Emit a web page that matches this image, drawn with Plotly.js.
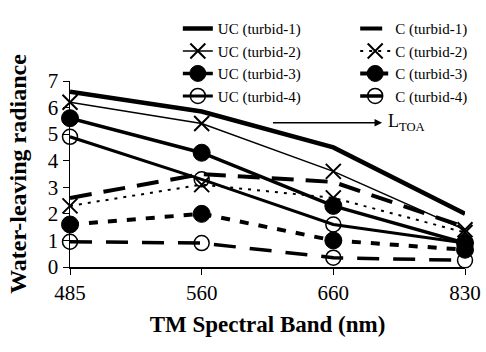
<!DOCTYPE html>
<html><head><meta charset="utf-8">
<script src="https://cdn.plot.ly/plotly-3.0.1.min.js"></script>
<style>body{margin:0;background:#fff}#c{width:486px;height:352px}</style>
</head><body><div id="c"></div>
<script>
const bands = ["485", "560", "660", "830"];
const ucTurbid1 = [6.6, 5.85, 4.5, 2.0];
const ucTurbid2 = [6.2, 5.4, 3.6, 1.4];
const ucTurbid3 = [5.6, 4.3, 2.3, 0.9];
const ucTurbid4 = [4.9, 3.3, 1.6, 0.9];
const cTurbid1 = [2.6, 3.5, 3.2, 1.5];
const cTurbid2 = [2.3, 3.1, 2.6, 1.3];
const cTurbid3 = [1.6, 2.0, 1.0, 0.65];
const cTurbid4 = [0.95, 0.9, 0.35, 0.25];
const yTicks = [0, 1, 2, 3, 4, 5, 6, 7];

const k = 'black';
function tr(name, y, leg, lw, dash, sym, msize, mlw) {
  const t = {x: bands, y: y, name: name, type: 'scatter', cliponaxis: false, legend: leg,
    mode: sym ? 'lines+markers' : 'lines',
    line: {color: k, width: lw, dash: dash}};
  if (sym) t.marker = {symbol: sym, size: msize, color: k, line: {color: k, width: mlw}};
  return t;
}
const data = [
  tr('UC (turbid-1)', ucTurbid1, 'legend', 4.5, 'solid'),
  tr('UC (turbid-2)', ucTurbid2, 'legend', 1.5, 'solid', 'x-thin-open', 15, 2),
  tr('UC (turbid-3)', ucTurbid3, 'legend', 3.5, 'solid', 'circle', 17, 1),
  tr('UC (turbid-4)', ucTurbid4, 'legend', 3, 'solid', 'circle-open', 15, 1.5),
  tr('C (turbid-1)', cTurbid1, 'legend2', 4, '22px,12px'),
  tr('C (turbid-2)', cTurbid2, 'legend2', 2, '3px,6px', 'x-thin-open', 15, 2),
  tr('C (turbid-3)', cTurbid3, 'legend2', 4, '9px,10px', 'circle', 17, 1),
  tr('C (turbid-4)', cTurbid4, 'legend2', 3.5, '22px,14px', 'circle-open', 15, 1.5)
];
const F = 'Liberation Serif, Times New Roman, serif';
const legBase = {orientation: 'v', yanchor: 'top', xanchor: 'left', y: 1.37, tracegroupgap: 0,
  font: {family: F, size: 15, color: k}, bgcolor: 'rgba(0,0,0,0)', itemwidth: 30};
const layout = {
  width: 486, height: 352,
  margin: {l: 70, r: 21, t: 71, b: 85},
  paper_bgcolor: 'white', plot_bgcolor: 'white',
  font: {family: F, color: k, size: 21},
  showlegend: true,
  legend: Object.assign({}, legBase, {x: 0.273}),
  legend2: Object.assign({}, legBase, {x: 0.722}),
  xaxis: {type: 'category', range: [0, 3], showline: true, linecolor: k, linewidth: 1.5,
    ticks: 'outside', ticklen: 6, tickcolor: k, showgrid: false, zeroline: false,
    tickfont: {size: 21}, automargin: false,
    title: {text: '<b>TM Spectral Band (nm)</b>', font: {size: 23}, standoff: 12}},
  yaxis: {range: [0, 7], tickvals: yTicks, showline: true, linecolor: k, linewidth: 1.5,
    ticks: 'outside', ticklen: 6, tickcolor: k, showgrid: false, zeroline: false,
    tickfont: {size: 21}, automargin: false,
    title: {text: '<b>Water-leaving radiance</b>', font: {size: 24}, standoff: 14}},
  annotations: [
    {x: 2.37, y: 5.43, xref: 'x', yref: 'y', ax: 1.53, ay: 5.43, axref: 'x', ayref: 'y',
     text: '', showarrow: true, arrowhead: 2, arrowsize: 1, arrowwidth: 1.5, arrowcolor: k},
    {x: 2.4, y: 5.43, xref: 'x', yref: 'y', xanchor: 'left', yanchor: 'middle', showarrow: false,
     text: 'L<sub>TOA</sub>', font: {size: 18}}
  ]
};
Plotly.newPlot('c', data, layout, {displayModeBar: false, staticPlot: true});
</script></body></html>
